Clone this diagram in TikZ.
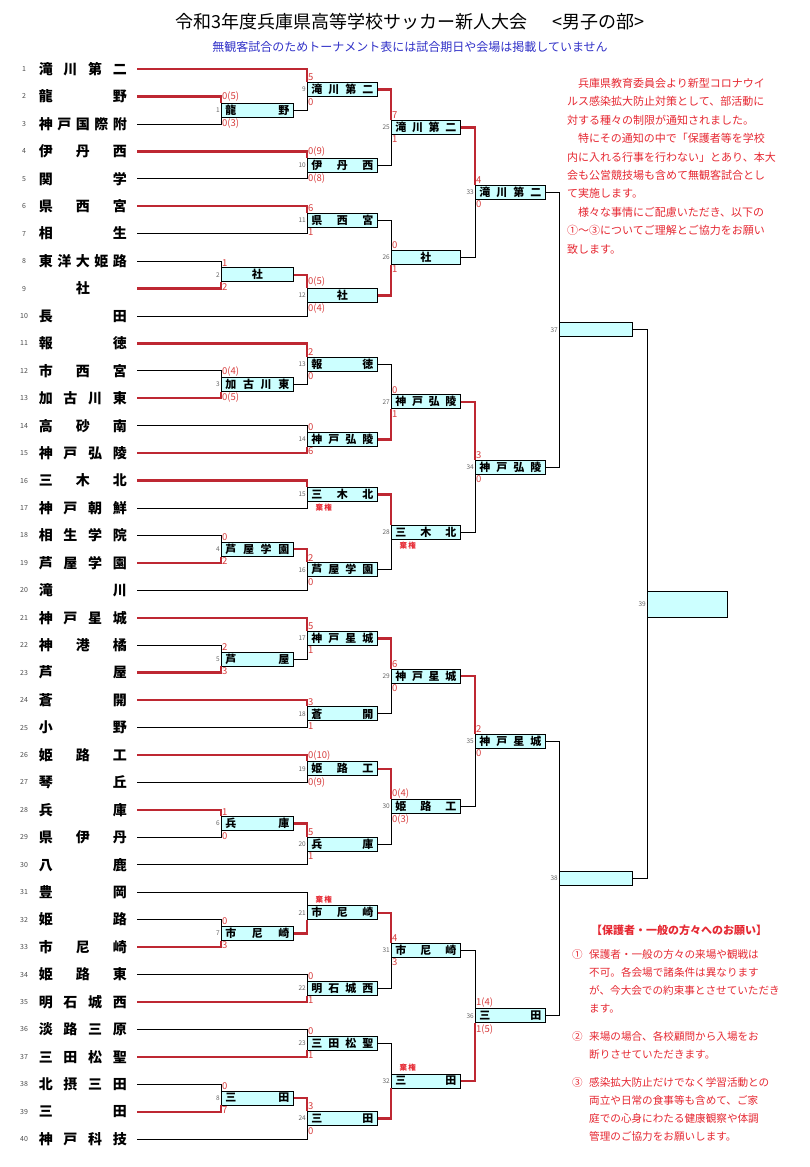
\documentclass[tikz,border=0pt]{standalone}
\usepackage{fontspec}
\setmainfont{Noto Sans CJK JP}
\usepackage{xcolor}
\definecolor{boxcyan}{RGB}{204,255,255}
\definecolor{winred}{RGB}{190,40,50}
\definecolor{scorered}{RGB}{215,60,60}
\definecolor{noteblue}{RGB}{50,50,200}
\definecolor{notered}{RGB}{230,40,50}
\usepackage{tikz}
\usetikzlibrary{positioning}

\begin{document}
\begin{tikzpicture}[x=1pt,y=-1pt]
  \tikzstyle{teamno}=[font=\fontsize{7}{7}\selectfont,text=black!70,inner sep=0pt]
  \tikzstyle{team}=[anchor=east,inner xsep=10pt,inner ysep=0pt,font=\fontsize{14}{14}\selectfont\bfseries]
  \tikzstyle{match}=[anchor=west,draw=black,line width=0.7pt,fill=boxcyan,minimum height=14pt,inner sep=0pt,font=\fontsize{11}{11}\selectfont\bfseries]
  \tikzstyle{mno}=[anchor=east,inner sep=1pt,font=\fontsize{6.5}{6.5}\selectfont,text=black!60]
  \tikzstyle{win}=[draw=winred,line width=2.4pt]
  \tikzstyle{lose}=[draw=black,line width=0.7pt]
  \tikzstyle{score}=[inner sep=1pt,font=\fontsize{9.5}{9.5}\selectfont,text=scorered]
  \tikzstyle{kiken}=[inner sep=1.5pt,font=\fontsize{7.5}{7.5}\selectfont\bfseries,text=notered]
  \tikzstyle{note}=[inner sep=0pt,align=left,font=\fontsize{11}{18.4}\selectfont,text=notered]
  \tikzstyle{item}=[note,anchor=north west,font=\fontsize{10.6}{18}\selectfont]

  \fill[white] (0,0) rectangle (810,1167);
  \useasboundingbox (0,0) rectangle (810,1167);

  \node[font=\fontsize{18}{18}\selectfont] (title) at (410,22) {令和3年度兵庫県高等学校サッカー新人大会\hspace{26pt}<男子の部>};
  \node[font=\fontsize{12}{12}\selectfont,text=noteblue] (sub) at (410,47) {無観客試合のためトーナメント表には試合期日や会場は掲載していません};

  \foreach \i/\nm in {1/{滝 川 第 二},2/{龍 野},3/{神 戸 国 際 附},4/{伊 丹 西},5/{関 学},
    6/{県 西 宮},7/{相 生},8/{東 洋 大 姫 路},9/{\hfill 社\hfill},10/{長 田},
    11/{報 徳},12/{市 西 宮},13/{加 古 川 東},14/{高 砂 南},15/{神 戸 弘 陵},
    16/{三 木 北},17/{神 戸 朝 鮮},18/{相 生 学 院},19/{芦 屋 学 園},20/{滝 川},
    21/{神 戸 星 城},22/{神 港 橘},23/{芦 屋},24/{蒼 開},25/{小 野},
    26/{姫 路 工},27/{琴 丘},28/{兵 庫},29/{県 伊 丹},30/{八 鹿},
    31/{豊 岡},32/{姫 路},33/{市 尼 崎},34/{姫 路 東},35/{明 石 城 西},
    36/{淡 路 三 原},37/{三 田 松 聖},38/{北 摂 三 田},39/{三 田},40/{神 戸 科 技}}{
    \node[teamno] (n\i) at (24,{69+(\i-1)*27.44}) {\i};
    \node[team] (t\i) at (137,{69+(\i-1)*27.44}) {\makebox[88pt][s]{\nm}};
  }

  \foreach \m/\x/\y/\w/\nm in {1/221/110.16/72/{龍 野},2/221/274.80/72/{\hfill 社\hfill},
    3/221/384.56/72/{加 古 川 東},4/221/549.20/72/{芦 屋 学 園},5/221/658.96/72/{芦 屋},
    6/221/823.60/72/{兵 庫},7/221/933.36/72/{市 尼 崎},8/221/1098.00/72/{三 田},
    9/307/89.58/70/{滝 川 第 二},10/307/165.04/70/{伊 丹 西},11/307/219.92/70/{県 西 宮},
    12/307/295.38/70/{\hfill 社\hfill},13/307/363.98/70/{報 徳},14/307/439.44/70/{神 戸 弘 陵},
    15/307/494.32/70/{三 木 北},16/307/569.78/70/{芦 屋 学 園},17/307/638.38/70/{神 戸 星 城},
    18/307/713.84/70/{蒼 開},19/307/768.72/70/{姫 路 工},20/307/844.18/70/{兵 庫},
    21/307/912.78/70/{市 尼 崎},22/307/988.24/70/{明 石 城 西},23/307/1043.12/70/{三 田 松 聖},
    24/307/1118.58/70/{三 田},
    25/391/127.31/69/{滝 川 第 二},26/391/257.65/69/{\hfill 社\hfill},27/391/401.71/69/{神 戸 弘 陵},
    28/391/532.05/69/{三 木 北},29/391/676.11/69/{神 戸 星 城},30/391/806.45/69/{姫 路 工},
    31/391/950.51/69/{市 尼 崎},32/391/1080.85/69/{三 田},
    33/475/192.48/70/{滝 川 第 二},34/475/466.88/70/{神 戸 弘 陵},35/475/741.28/70/{神 戸 星 城},
    36/475/1015.68/70/{三 田},
    37/559/329.68/73/{},38/559/878.48/73/{}}{
    \node[match,minimum width=\w*1pt] (m\m) at (\x,\y) {\makebox[\dimexpr\w pt-8pt\relax][s]{\nm}};
    \node[mno] (l\m) at (m\m.west) {\m};
  }
  \node[match,minimum width=80pt,minimum height=26pt] (m39) at (647,604.08) {};
  \node[mno] (l39) at (m39.west) {39};

  \foreach \m/\a/\sa/\b/\sb in {1/t2/win/t3/lose,2/t8/lose/t9/win,3/t12/lose/t13/win,4/t18/lose/t19/win,
    5/t22/lose/t23/win,6/t28/win/t29/lose,7/t32/lose/t33/win,8/t38/lose/t39/win,
    9/t1/win/m1/lose,10/t4/win/t5/lose,11/t6/win/t7/lose,12/m2/win/t10/lose,
    13/t11/win/m3/lose,14/t14/lose/t15/win,15/t16/win/t17/lose,16/m4/win/t20/lose,
    17/t21/win/m5/lose,18/t24/win/t25/lose,19/t26/win/t27/lose,20/m6/win/t30/lose,
    21/t31/lose/m7/win,22/t34/lose/t35/win,23/t36/lose/t37/win,24/m8/win/t40/lose,
    25/m9/win/m10/lose,26/m11/lose/m12/win,27/m13/lose/m14/win,28/m15/win/m16/lose,
    29/m17/win/m18/lose,30/m19/win/m20/lose,31/m21/win/m22/lose,32/m23/lose/m24/win,
    33/m25/win/m26/lose,34/m27/win/m28/lose,35/m29/win/m30/lose,36/m31/lose/m32/win,
    37/m33/lose/m34/lose,38/m35/lose/m36/lose,39/m37/lose/m38/lose}{
    \draw[\sa] (\a.east) -| (m\m.north west);
    \draw[\sb] (\b.east) -| (m\m.south west);
  }

  \foreach \m/\st/\sb in {1/0(5)/0(3),2/1/2,3/0(4)/0(5),4/0/2,5/2/3,6/1/0,7/0/3,8/0/7,
    9/5/0,10/0(9)/0(8),11/6/1,12/0(5)/0(4),13/2/0,14/0/6,16/2/0,17/5/1,18/3/1,
    19/0(10)/0(9),20/5/1,22/0/1,23/0/1,24/3/0,25/7/1,26/0/1,27/0/1,29/6/0,
    30/0(4)/0(3),31/4/3,33/4/0,34/3/0,35/2/0,36/1(4)/1(5)}{
    \node[score,anchor=south west] (st\m) at (m\m.north west) {\st};
    \node[score,anchor=north west] (sb\m) at (m\m.south west) {\sb};
  }

  \node[kiken,anchor=north west] (k15) at ([xshift=7pt,yshift=-1pt]m15.south west) {棄\,権};
  \node[kiken,anchor=north west] (k28) at ([xshift=7pt,yshift=-1pt]m28.south west) {棄\,権};
  \node[kiken,anchor=south west] (k21) at ([xshift=7pt,yshift=1pt]m21.north west) {棄\,権};
  \node[kiken,anchor=south west] (k32) at ([xshift=7pt,yshift=1pt]m32.north west) {棄\,権};

  \node[note,anchor=north west] (info) at (567,78) {　兵庫県教育委員会より新型コロナウイ\\ルス感染拡大防止対策として、部活動に\\対する種々の制限が通知されました。\\　特にその通知の中で「保護者等を学校\\内に入れる行事を行わない」とあり、本大\\会も公営競技場も含めて無観客試合とし\\て実施します。\\　様々な事情にご配慮いただき、以下の\\①～③についてご理解とご協力をお願い\\致します。};

  \node[note,font=\fontsize{11}{11}\selectfont\bfseries] (ask) at (679,930) {【保護者・一般の方々へのお願い】};
  \node[item] (c1) at (572,949) {①};
  \node[item] (p1) at (589,949) {保護者・一般の方々の来場や観戦は\\不可。各会場で諸条件は異なります\\が、今大会での約束事とさせていただき\\ます。};
  \node[item] (c2) at (572,1031) {②};
  \node[item] (p2) at (589,1031) {来場の場合、各校顧問から入場をお\\断りさせていただきます。};
  \node[item] (c3) at (572,1077) {③};
  \node[item] (p3) at (589,1077) {感染拡大防止だけでなく学習活動との\\両立や日常の食事等も含めて、ご家\\庭での心身にわたる健康観察や体調\\管理のご協力をお願いします。};
\end{tikzpicture}
\end{document}
